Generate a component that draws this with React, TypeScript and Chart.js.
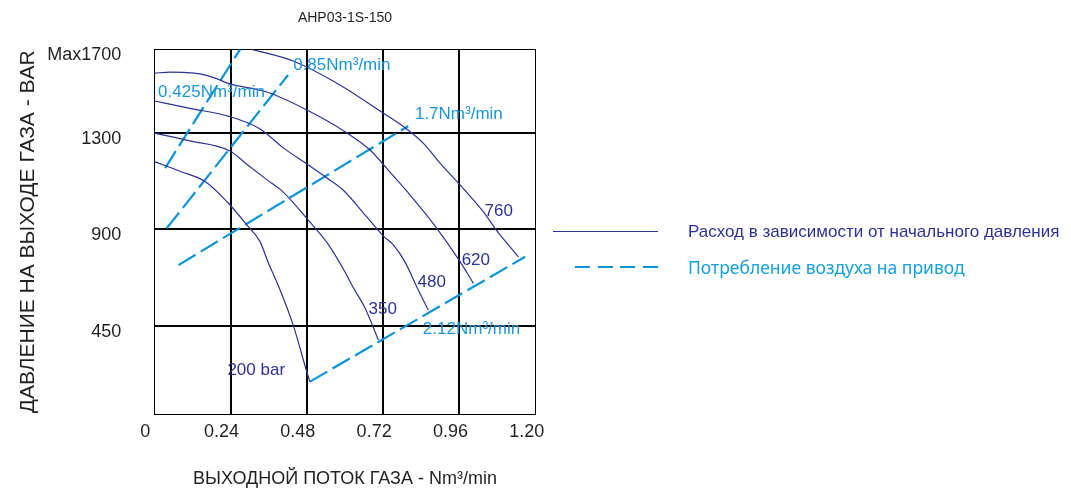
import React, { useEffect, useRef } from "react";
import { Chart, LinearScale, registerables } from "chart.js";

// ---------- data ----------
const chartTitle = "AHP03-1S-150";
const xAxisTitle = "ВЫХОДНОЙ ПОТОК ГАЗА - Nm³/min";
const yAxisTitle = "ДАВЛЕНИЕ НА ВЫХОДЕ ГАЗА - BAR";

const xTickValues = [0, 0.24, 0.48, 0.72, 0.96, 1.2];
const xTickLabels = ["0", "0.24", "0.48", "0.72", "0.96", "1.20"];
const yTickValues = [0, 450, 900, 1300, 1700];
const yTickLabels = ["", "450", "900", "1300", "Max1700"];

// flow curves (outlet pressure vs outlet flow) for each inlet pressure
const curve200X = [0, 0.081, 0.160, 0.229, 0.291, 0.333, 0.359, 0.392, 0.437, 0.480, 0.490];
const curve200Y = [1180, 1140, 1097, 1013, 917, 840, 742, 630, 453, 215, 164];

const curve350X = [0, 0.112, 0.238, 0.292, 0.355, 0.405, 0.481, 0.544, 0.600, 0.625, 0.663, 0.705];
const curve350Y = [1298, 1266, 1224, 1168, 1104, 1054, 942, 835, 700, 630, 532, 377];

const curve480X = [0, 0.112, 0.238, 0.333, 0.406, 0.480, 0.543, 0.594, 0.668, 0.721, 0.752, 0.789, 0.826, 0.862];
const curve480Y = [1452, 1417, 1377, 1318, 1237, 1170, 1112, 1062, 951, 867, 826, 746, 630, 523];

const curve620X = [0, 0.049, 0.090, 0.144, 0.191, 0.238, 0.354, 0.480, 0.600, 0.679, 0.731, 0.805, 0.889, 0.962, 1.004];
const curve620Y = [1585, 1591, 1589, 1582, 1562, 1534, 1495, 1409, 1305, 1228, 1152, 1041, 903, 748, 647];

const curve760X = [0.307, 0.437, 0.584, 0.721, 0.794, 0.846, 0.899, 0.962, 1.035, 1.078, 1.146];
const curve760Y = [1700, 1644, 1529, 1393, 1318, 1257, 1174, 1083, 972, 891, 770];

// drive air consumption lines
const air0425X = [0.034, 0.27];
const air0425Y = [1153, 1700];
const air085X = [0.039, 0.421];
const air085Y = [903, 1577];
const air17X = [0.076, 0.799];
const air17Y = [732, 1332];
const air212X = [0.49, 1.167];
const air212Y = [166, 771];

// in-plot annotations
const pressureLabelTexts = ["200 bar", "350", "480", "620", "760"];
const pressureLabelX = [0.230, 0.674, 0.828, 0.967, 1.039];
const pressureLabelY = [221, 525, 652, 752, 975];
const flowLabelTexts = ["0.425Nm³/min", "0.85Nm³/min", "1.7Nm³/min", "2.12Nm³/min"];
const flowLabelX = [0.012, 0.437, 0.820, 0.845];
const flowLabelY = [1495, 1625, 1390, 432];

const legendSolidText = "Расход в зависимости от начального давления";
const legendDashedText = "Потребление воздуха на привод";

// ---------- styles ----------
const NAVY = "#2e3192";
const BLUE = "#0a94d6";
const BLUE_TEXT = "#1b96d5";
const FONT = "'Liberation Sans', Arial, sans-serif";

// grid positions (fraction of axis height) of the y tick values in the original drawing
const Y_FRACTIONS = [0, 0.2427, 0.5077, 0.7715, 1];

function valueToFraction(v: number): number {
  const b = yTickValues;
  if (v <= b[0]) return Y_FRACTIONS[0] + (v - b[0]) / (b[1] - b[0]) * (Y_FRACTIONS[1] - Y_FRACTIONS[0]);
  for (let i = 0; i < b.length - 1; i++) {
    if (v <= b[i + 1]) {
      return Y_FRACTIONS[i] + (v - b[i]) / (b[i + 1] - b[i]) * (Y_FRACTIONS[i + 1] - Y_FRACTIONS[i]);
    }
  }
  const n = b.length - 1;
  return Y_FRACTIONS[n] + (v - b[n]) / (b[n] - b[n - 1]) * (Y_FRACTIONS[n] - Y_FRACTIONS[n - 1]);
}
function fractionToValue(f: number): number {
  const b = yTickValues;
  for (let i = 0; i < b.length - 1; i++) {
    if (f <= Y_FRACTIONS[i + 1] || i === b.length - 2) {
      return b[i] + (f - Y_FRACTIONS[i]) / (Y_FRACTIONS[i + 1] - Y_FRACTIONS[i]) * (b[i + 1] - b[i]);
    }
  }
  return b[b.length - 1];
}

class SegmentedScale extends LinearScale {
  static id = "segmented";
  static defaults = {};
  getPixelForValue(value: number) {
    return this.getPixelForDecimal(valueToFraction(value));
  }
  getValueForPixel(pixel: number) {
    return fractionToValue(this.getDecimalForPixel(pixel));
  }
}

Chart.register(...registerables, SegmentedScale as any);

function pts(xs: number[], ys: number[]) {
  return xs.map((x, i) => ({ x, y: ys[i] }));
}

const annotationPlugin = {
  id: "curveLabels",
  afterDatasetsDraw(chart: any) {
    const { ctx, scales } = chart;
    const xs = scales.x;
    const ys = scales.y;
    ctx.save();
    ctx.font = `17px ${FONT}`;
    ctx.textBaseline = "middle";
    ctx.textAlign = "left";
    ctx.fillStyle = NAVY;
    pressureLabelTexts.forEach((t, i) => {
      ctx.fillText(t, xs.getPixelForValue(pressureLabelX[i]), ys.getPixelForValue(pressureLabelY[i]));
    });
    ctx.fillStyle = BLUE_TEXT;
    flowLabelTexts.forEach((t, i) => {
      ctx.fillText(t, xs.getPixelForValue(flowLabelX[i]), ys.getPixelForValue(flowLabelY[i]));
    });
    ctx.restore();
  },
};

export default function App() {
  const ref = useRef<HTMLCanvasElement | null>(null);

  useEffect(() => {
    if (!ref.current) return;
    const curveStyle = {
      borderColor: NAVY,
      borderWidth: 1.2,
      pointRadius: 0,
      cubicInterpolationMode: "monotone" as const,
      fill: false,
    };
    const airStyle = {
      borderColor: BLUE,
      borderWidth: 2.2,
      borderDash: [20, 6],
      pointRadius: 0,
      tension: 0,
      fill: false,
    };
    const chart = new Chart(ref.current, {
      type: "line",
      data: {
        datasets: [
          { label: "200", data: pts(curve200X, curve200Y), ...curveStyle },
          { label: "350", data: pts(curve350X, curve350Y), ...curveStyle },
          { label: "480", data: pts(curve480X, curve480Y), ...curveStyle },
          { label: "620", data: pts(curve620X, curve620Y), ...curveStyle },
          { label: "760", data: pts(curve760X, curve760Y), ...curveStyle },
          { label: "0.425", data: pts(air0425X, air0425Y), ...airStyle },
          { label: "0.85", data: pts(air085X, air085Y), ...airStyle },
          { label: "1.7", data: pts(air17X, air17Y), ...airStyle },
          { label: "2.12", data: pts(air212X, air212Y), ...airStyle },
        ] as any,
      },
      options: {
        responsive: false,
        animation: false,
        events: [],
        layout: { padding: { left: 0, right: 535.3, top: 0, bottom: 0 } },
        plugins: {
          legend: { display: false },
          tooltip: { enabled: false },
          title: {
            display: true,
            text: chartTitle,
            fullSize: false,
            color: "#231f20",
            font: { family: FONT, size: 14, weight: "normal" },
            padding: { top: 10, bottom: 22.5 },
          },
        },
        scales: {
          x: {
            type: "linear",
            min: 0,
            max: 1.2,
            afterBuildTicks: (s: any) => {
              s.ticks = xTickValues.map((v) => ({ value: v }));
            },
            afterFit: (s: any) => {
              s.height = 83.7;
            },
            ticks: {
              autoSkip: false,
              maxRotation: 0,
              labelOffset: -9,
              padding: 7,
              color: "#231f20",
              font: { family: FONT, size: 18 },
              callback: (_v: any, i: number) => xTickLabels[i],
            },
            grid: {
              color: "#000",
              lineWidth: (c: any) => (c.index === 0 || c.index === xTickValues.length - 1 ? 1 : 2),
              drawTicks: false,
            },
            border: { display: true, color: "#000", width: 1 },
            title: {
              display: true,
              text: xAxisTitle,
              color: "#231f20",
              font: { family: FONT, size: 18 },
              padding: { top: 0, bottom: 8 },
            },
          },
          y: {
            type: "segmented" as any,
            min: 0,
            max: 1700,
            afterBuildTicks: (s: any) => {
              s.ticks = yTickValues.map((v) => ({ value: v }));
            },
            afterFit: (s: any) => {
              s.width = 154.3;
            },
            ticks: {
              autoSkip: false,
              labelOffset: 6,
              padding: 33,
              color: "#231f20",
              font: { family: FONT, size: 18 },
              callback: (_v: any, i: number) => yTickLabels[i],
            },
            grid: {
              color: "#000",
              lineWidth: (c: any) => (c.index === 0 || c.index === yTickValues.length - 1 ? 1 : 2),
              drawTicks: false,
            },
            border: { display: true, color: "#000", width: 1 },
            title: {
              display: true,
              text: yAxisTitle,
              color: "#231f20",
              font: { family: FONT, size: 21 },
              padding: { top: 16, bottom: 0 },
            },
          },
        } as any,
      },
      plugins: [annotationPlugin],
    });
    return () => chart.destroy();
  }, []);

  return (
    <div style={{ position: "fixed", left: 0, top: 0, width: 1071, height: 498, background: "#fff" }}>
      <canvas ref={ref} width={1071} height={498} style={{ display: "block" }} />
      <div style={{ position: "absolute", left: 553, top: 231, width: 105, height: 0, borderTop: `1.6px solid ${NAVY}` }} />
      <div
        style={{
          position: "absolute",
          left: 575,
          top: 266.3,
          width: 83,
          height: 1.5,
          background: `repeating-linear-gradient(to right, ${BLUE} 0px, ${BLUE} 15px, transparent 15px, transparent 22.67px)`,
        }}
      />
      <div
        style={{
          position: "absolute",
          left: 688,
          top: 222,
          lineHeight: "20px",
          fontSize: 17,
          fontFamily: FONT,
          color: NAVY,
          whiteSpace: "nowrap",
        }}
      >
        {legendSolidText}
      </div>
      <div
        style={{
          position: "absolute",
          left: 688,
          top: 257,
          lineHeight: "20px",
          fontSize: 17.5,
          fontFamily: "'Noto Sans', sans-serif",
          color: "#139fe0",
          whiteSpace: "nowrap",
        }}
      >
        {legendDashedText}
      </div>
    </div>
  );
}
